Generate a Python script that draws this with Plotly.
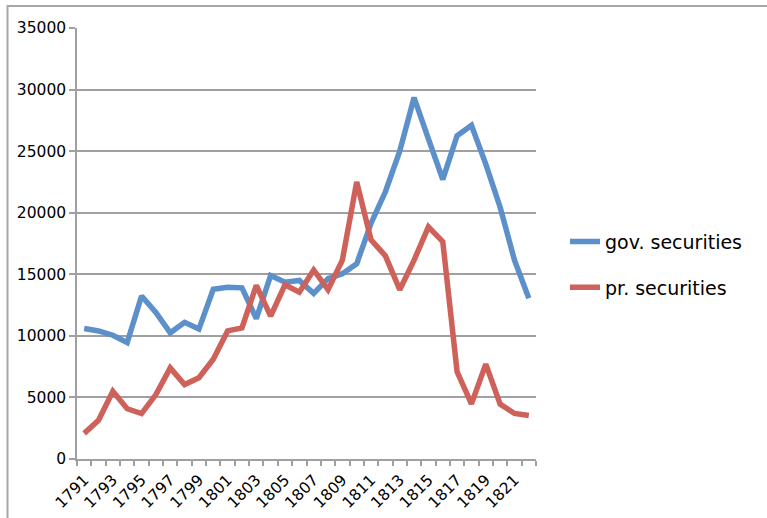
import plotly.graph_objects as go

years = list(range(1791, 1823))
gov_securities = [10600, 10400, 10050, 9450, 13240, 11900, 10250, 11100, 10550, 13780,
                  13950, 13900, 11400, 14900, 14350, 14500, 13450, 14650, 15050, 15850,
                  19150, 21700, 25000, 29350, 26000, 22700, 26250, 27100, 23950, 20450,
                  16150, 13050]
pr_securities = [2080, 3140, 5500, 4080, 3690, 5230, 7400, 6050, 6600, 8100,
                 10400, 10650, 14100, 11600, 14150, 13550, 15350, 13750, 16150, 22500,
                 17800, 16500, 13750, 16150, 18850, 17650, 7080, 4480, 7700, 4460,
                 3700, 3530]
series_names = ["gov. securities", "pr. securities"]
colors = ["#5B90CA", "#CE615A"]
y_ticks = [0, 5000, 10000, 15000, 20000, 25000, 30000, 35000]
x_ticks = list(range(1791, 1823, 2))

W, H = 767, 518
L, R, T, B = 77, 536, 28, 459.5

fig = go.Figure()
for i, (name, vals) in enumerate(zip(series_names, [gov_securities, pr_securities])):
    fig.add_trace(go.Scatter(
        x=years, y=vals, mode="lines", name=name, legendgroup=name,
        line=dict(color=colors[i], width=5.5),
    ))

pw, ph = R - L, B - T
def px2paper(x, y):
    return (x - L) / pw, (B - y) / ph

x0, y0 = px2paper(7.5, 6)
x1, y1 = px2paper(800, 560)
fig.add_shape(type="rect", xref="paper", yref="paper", x0=x0, y0=y1, x1=x1, y1=y0,
              line=dict(color="#A6A6A6", width=2), layer="below")

fig.update_layout(
    width=W, height=H,
    margin=dict(l=L, r=W - R, t=T, b=H - B),
    paper_bgcolor="white", plot_bgcolor="white",
    font=dict(family="DejaVu Sans", color="#000000", size=13),
    showlegend=True,
    legend=dict(x=px2paper(565, 0)[0], y=px2paper(0, 265)[1], xanchor="left", yanchor="middle",
                font=dict(size=19, family="DejaVu Sans"), tracegroupgap=18,
                itemwidth=30, bgcolor="rgba(0,0,0,0)"),
    xaxis=dict(range=[1790.5, 1822.5], tickmode="array", tickvals=x_ticks,
               ticktext=[str(v) for v in x_ticks], tickangle=-45, ticks="",
               automargin=False, ticklabelstandoff=4,
               showgrid=False, zeroline=False, showline=True, linecolor="#A0A0A0", linewidth=1.5,
               tickfont=dict(size=15.5),
               minor=dict(ticks="outside", tick0=1790.5, dtick=1, ticklen=5,
                          tickcolor="#A0A0A0", tickwidth=1.5, showgrid=False)),
    yaxis=dict(range=[0, 35000], tickmode="array", tickvals=y_ticks,
               ticktext=[str(v) for v in y_ticks], automargin=False,
               ticks="outside", ticklen=6, tickcolor="#A0A0A0", tickwidth=1.5,
               showgrid=True, gridcolor="#A0A0A0", gridwidth=1.5, zeroline=False,
               showline=True, linecolor="#A0A0A0", linewidth=1.5,
               tickfont=dict(size=15.5)),
)

fig.write_html("out.html")
